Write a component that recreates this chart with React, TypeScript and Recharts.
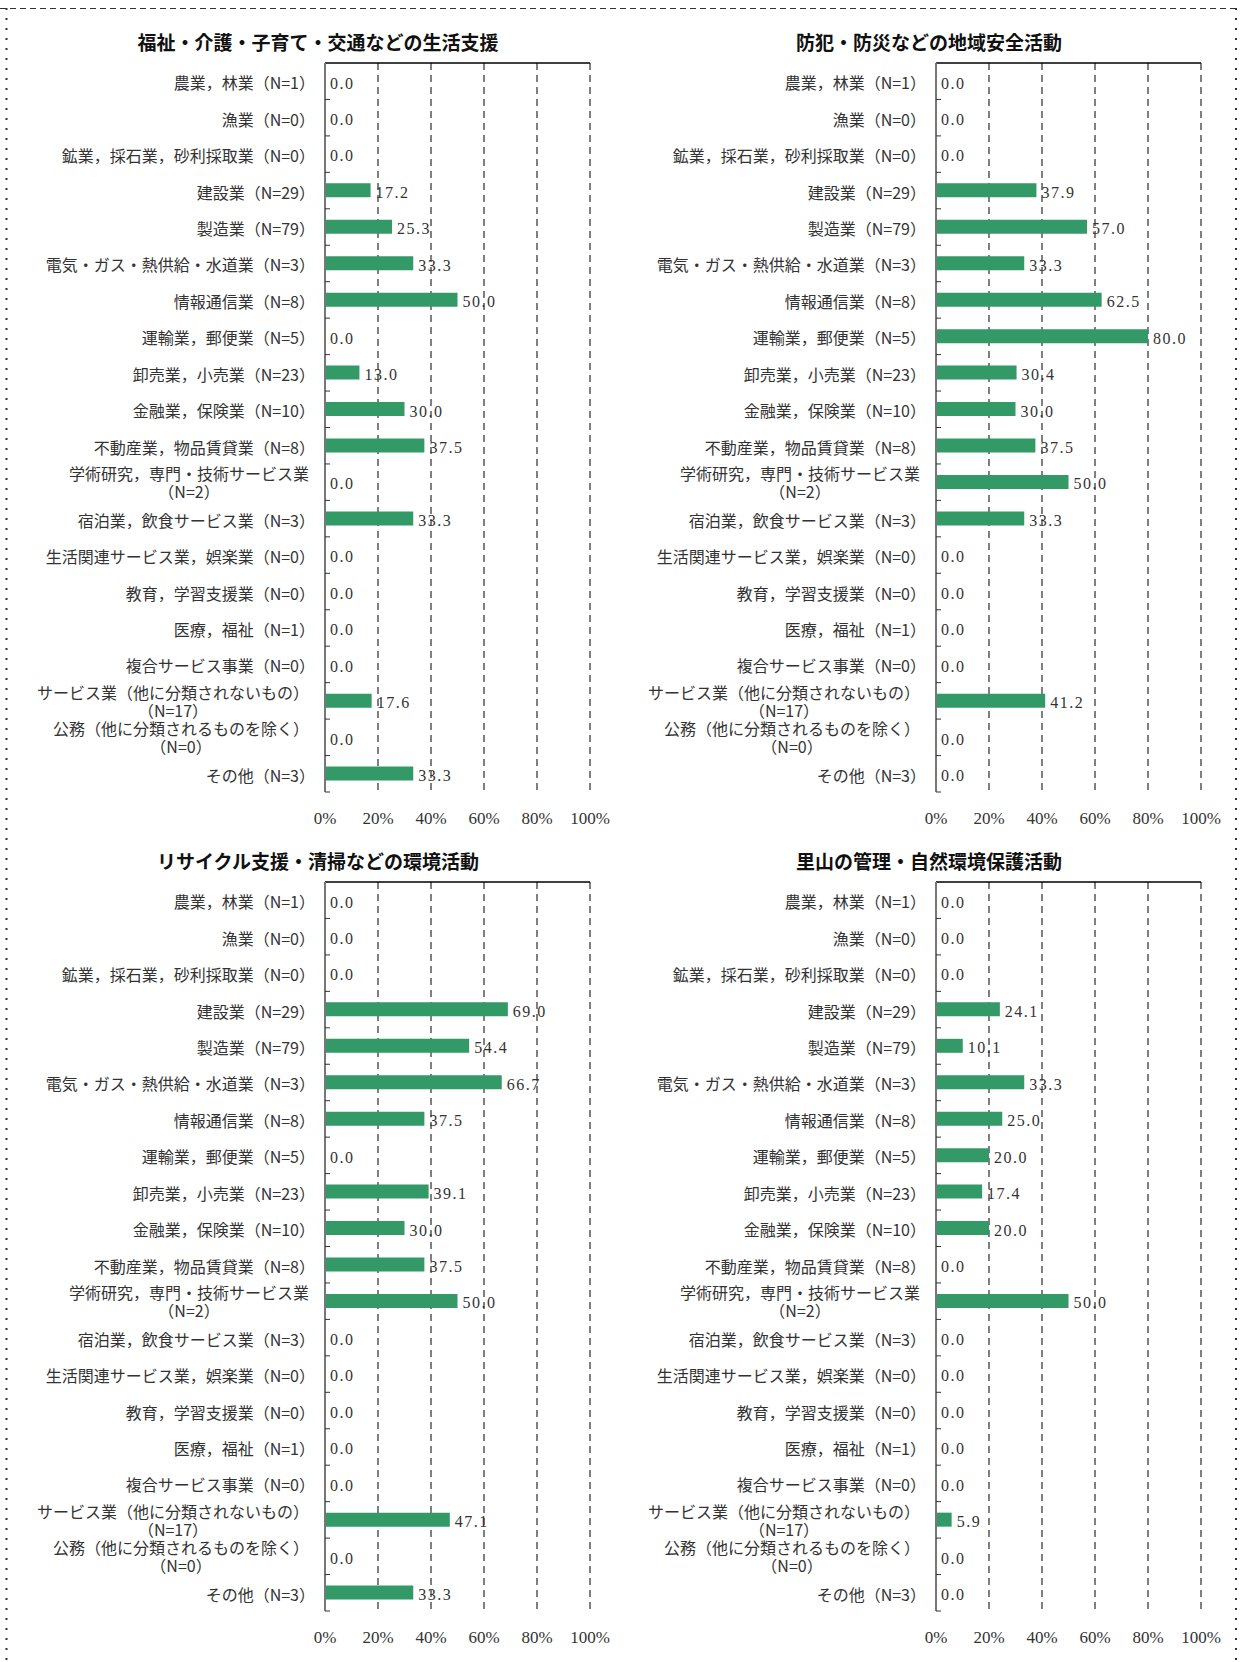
import React from "react";
import {
  BarChart,
  Bar,
  XAxis,
  YAxis,
  CartesianGrid,
  LabelList,
} from "recharts";

// ---------- data ----------
const categories: string[] = [
  "農業，林業（N=1）",
  "漁業（N=0）",
  "鉱業，採石業，砂利採取業（N=0）",
  "建設業（N=29）",
  "製造業（N=79）",
  "電気・ガス・熱供給・水道業（N=3）",
  "情報通信業（N=8）",
  "運輸業，郵便業（N=5）",
  "卸売業，小売業（N=23）",
  "金融業，保険業（N=10）",
  "不動産業，物品賃貸業（N=8）",
  "学術研究，専門・技術サービス業\n（N=2）",
  "宿泊業，飲食サービス業（N=3）",
  "生活関連サービス業，娯楽業（N=0）",
  "教育，学習支援業（N=0）",
  "医療，福祉（N=1）",
  "複合サービス事業（N=0）",
  "サービス業（他に分類されないもの）\n（N=17）",
  "公務（他に分類されるものを除く）\n（N=0）",
  "その他（N=3）",
];

const titles: string[] = [
  "福祉・介護・子育て・交通などの生活支援",
  "防犯・防災などの地域安全活動",
  "リサイクル支援・清掃などの環境活動",
  "里山の管理・自然環境保護活動",
];

const lifeSupport: number[] = [0, 0, 0, 17.2, 25.3, 33.3, 50.0, 0, 13.0, 30.0, 37.5, 0, 33.3, 0, 0, 0, 0, 17.6, 0, 33.3];
const safety: number[] = [0, 0, 0, 37.9, 57.0, 33.3, 62.5, 80.0, 30.4, 30.0, 37.5, 50.0, 33.3, 0, 0, 0, 0, 41.2, 0, 0];
const environment: number[] = [0, 0, 0, 69.0, 54.4, 66.7, 37.5, 0, 39.1, 30.0, 37.5, 50.0, 0, 0, 0, 0, 0, 47.1, 0, 33.3];
const satoyama: number[] = [0, 0, 0, 24.1, 10.1, 33.3, 25.0, 20.0, 17.4, 20.0, 0, 50.0, 0, 0, 0, 0, 0, 5.9, 0, 0];

const xTicks: number[] = [0, 20, 40, 60, 80, 100];

// ---------- styling / layout ----------
const BAR_COLOR = "#339966";
const TEXT_COLOR = "#333333";
const CJK_FONT = "'Noto Sans CJK JP', sans-serif";
const NUM_FONT = "'Liberation Serif', 'DejaVu Serif', serif";
const CAT_FS = 16;

const CHART_W = 620;
const CHART_H = 840;
const M_TOP = 63;
const PLOT_H = 729;
const X_AXIS_H = 40;
const TOP_AXIS_H = 1;
const M_BOTTOM = CHART_H - M_TOP - PLOT_H - X_AXIS_H;
const Y_AXIS_W = 300;
const M_LEFT = 25;
const M_RIGHT = 30;

const CategoryTick = (props: any) => {
  const { x, y, payload } = props;
  const band = PLOT_H / categories.length;
  const lines = String(payload.value).split("\n");
  const right = x - 10;
  let label: React.ReactNode;
  if (lines.length === 1) {
    label = (
      <text
        x={right}
        y={y + 1}
        textAnchor="end"
        dominantBaseline="central"
        fontSize={CAT_FS}
        fontFamily={CJK_FONT}
        fill={TEXT_COLOR}
      >
        {lines[0]}
      </text>
    );
  } else {
    const r = right - 6;
    const cx = r - (lines[0].length * CAT_FS) / 2;
    label = (
      <text
        fontSize={CAT_FS}
        fontFamily={CJK_FONT}
        fill={TEXT_COLOR}
        dominantBaseline="central"
      >
        <tspan x={r} y={y - 9} textAnchor="end">
          {lines[0]}
        </tspan>
        <tspan x={cx} y={y + 9} textAnchor="middle">
          {lines[1]}
        </tspan>
      </text>
    );
  }
  return (
    <g>
      {label}
      <line
        x1={x}
        x2={x + 5}
        y1={y + band / 2}
        y2={y + band / 2}
        stroke="#333"
        strokeWidth={1}
      />
    </g>
  );
};

const ValueLabel = (props: any) => {
  const { x, y, width, height, value } = props;
  return (
    <text
      x={Number(x) + Number(width) + 5}
      y={Number(y) + Number(height) / 2 + 2}
      dominantBaseline="central"
      textAnchor="start"
      fontSize={16}
      fontFamily={NUM_FONT}
      fill={TEXT_COLOR}
      letterSpacing={1.5}
    >
      {Number(value).toFixed(1)}
    </text>
  );
};

const Panel = ({
  title,
  values,
  left,
  top,
}: {
  title: string;
  values: number[];
  left: number;
  top: number;
}) => {
  const data = categories.map((name, i) => ({ name, value: values[i] }));
  return (
    <div style={{ position: "absolute", left, top, width: CHART_W, height: CHART_H }}>
      <div
        style={{
          position: "absolute",
          left: 8,
          top: M_TOP - 21 - 12,
          width: CHART_W,
          height: 24,
          lineHeight: "24px",
          textAlign: "center",
          fontFamily: CJK_FONT,
          fontWeight: 700,
          fontSize: 19,
          color: "#111",
          whiteSpace: "nowrap",
        }}
      >
        {title}
      </div>
      <BarChart
        width={CHART_W}
        height={CHART_H}
        data={data}
        layout="vertical"
        margin={{ top: M_TOP - TOP_AXIS_H, right: M_RIGHT, bottom: M_BOTTOM, left: M_LEFT }}
        barSize={14}
      >
        <CartesianGrid
          horizontal={false}
          vertical={true}
          stroke="#000"
          strokeDasharray="7 5"
        />
        <XAxis
          type="number"
          domain={[0, 100]}
          ticks={xTicks}
          interval={0}
          tickFormatter={(v: number) => `${v}%`}
          axisLine={false}
          tickLine={false}
          tickSize={0}
          tickMargin={20}
          height={X_AXIS_H}
          tick={{ fontSize: 17, fontFamily: NUM_FONT, fill: TEXT_COLOR }}
        />
        <XAxis
          xAxisId="top"
          orientation="top"
          type="number"
          domain={[0, 100]}
          ticks={xTicks}
          tick={false}
          tickLine={false}
          tickSize={0}
          height={TOP_AXIS_H}
          axisLine={{ stroke: "#000", strokeWidth: 1.5 }}
        />
        <YAxis
          type="category"
          dataKey="name"
          width={Y_AXIS_W}
          interval={0}
          tickLine={false}
          tickSize={0}
          tickMargin={0}
          axisLine={{ stroke: "#777", strokeWidth: 2 }}
          tick={<CategoryTick />}
        />
        <Bar dataKey="value" fill={BAR_COLOR} isAnimationActive={false} minPointSize={0.01}>
          <LabelList dataKey="value" content={<ValueLabel />} />
        </Bar>
      </BarChart>
    </div>
  );
};

export default function App() {
  return (
    <div style={{ position: "absolute", left: 0, top: 0, width: 1240, height: 1662, background: "#fff" }}>
      <svg
        width={1240}
        height={1662}
        style={{ position: "absolute", left: 0, top: 0 }}
      >
        <line x1={0} y1={8.5} x2={1240} y2={8.5} stroke="#333" strokeWidth={1} strokeDasharray="6 4" />
        <line x1={6.5} y1={8} x2={6.5} y2={1662} stroke="#333" strokeWidth={2} strokeDasharray="2 8" />
        <line x1={1236} y1={8} x2={1236} y2={1662} stroke="#333" strokeWidth={2} strokeDasharray="2 8" />
      </svg>
      <Panel title={titles[0]} values={lifeSupport} left={0} top={0} />
      <Panel title={titles[1]} values={safety} left={611} top={0} />
      <Panel title={titles[2]} values={environment} left={0} top={819} />
      <Panel title={titles[3]} values={satoyama} left={611} top={819} />
    </div>
  );
}
